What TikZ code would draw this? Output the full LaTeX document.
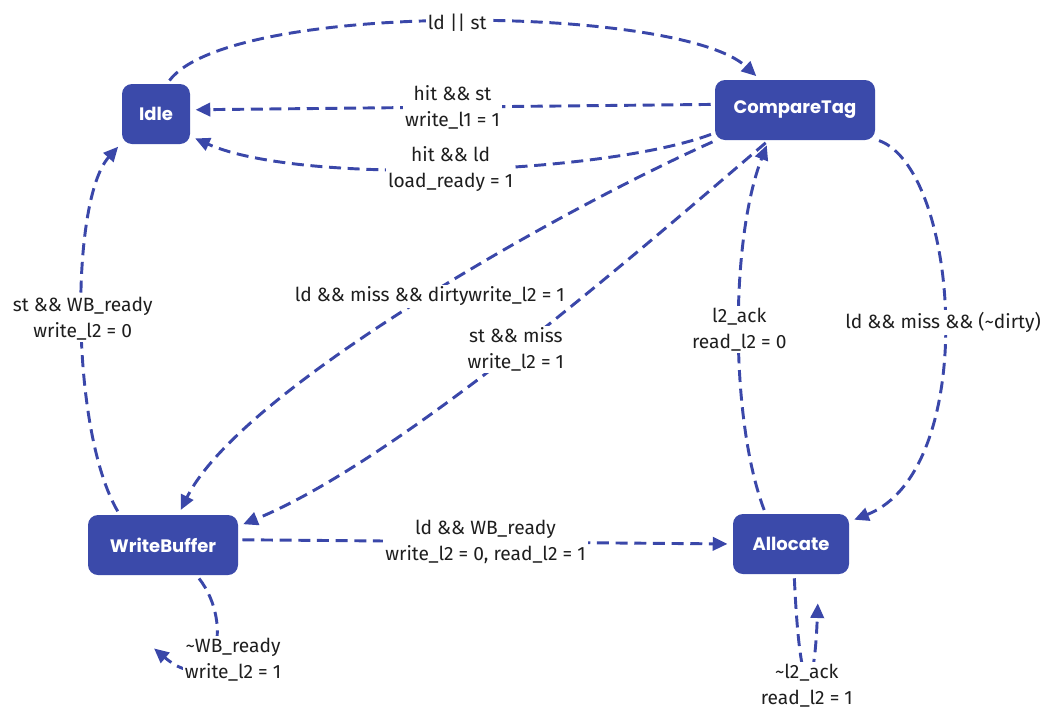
\documentclass[tikz,border=0pt]{standalone}
\usepackage{fontspec}
\setmainfont{Fira Sans}
\newfontfamily\statefont{Poppins}
\usetikzlibrary{arrows.meta}

\tikzstyle{state-box}=[rectangle, rounded corners=7.5pt, fill=stateblue, text=white, minimum height=45pt, inner sep=0pt, font=\statefont\fontsize{13.5}{16}\selectfont\bfseries]
\tikzstyle{trans-edge}=[draw=transblue, line width=2.2pt, dash pattern=on 9pt off 5pt, -{Triangle[length=11pt, width=10pt]}, shorten >=4pt, shorten <=3pt]
\tikzstyle{trans-label}=[fill=white, text=transtext, inner sep=1.5pt, align=center, font=\fontsize{14.4}{19.5}\selectfont]
\definecolor{stateblue}{HTML}{3B4AAA}
\definecolor{transblue}{HTML}{3A47A9}
\definecolor{transtext}{HTML}{1E1E1E}

\begin{document}
\begin{tikzpicture}[x=0.75pt, y=-0.75pt]
      \useasboundingbox (0, 0) rectangle (1047, 711);

      \node (idle) at (156, 114) [state-box, minimum width=51pt] {Idle};
      \node (compare) at (795, 110) [state-box, minimum width=120pt] {CompareTag};
      \node (wbuf) at (163, 545) [state-box, minimum width=112.5pt] {WriteBuffer};
      \node (alloc) at (791, 544) [state-box, minimum width=87pt] {Allocate};
      \coordinate (wbloop) at (150, 645);
      \coordinate (alloop) at (818, 598);

      \draw[trans-edge] (idle.70) .. controls (230, 0) and (680, 5) .. (compare.139)
            node[trans-label, pos=0.5] {ld || st};
      \draw[trans-edge] (compare.176) -- (idle.7)
            node[trans-label, midway] {hit \&\& st\\write\_l1 = 1};
      \draw[trans-edge] (compare.196) .. controls (600, 175) and (300, 185) .. (idle.-33)
            node[trans-label, pos=0.5] {hit \&\& ld\\load\_ready = 1};
      \draw[trans-edge] (compare.201) .. controls (560, 210) and (240, 390) .. (wbuf.63)
            node[trans-label, pos=0.5, xshift=13.5pt, yshift=8pt] {ld \&\& miss \&\& dirtywrite\_l2 = 1};
      \draw[trans-edge] (compare.229) .. controls (640, 250) and (400, 460) .. (wbuf.14)
            node[trans-label, pos=0.5] {st \&\& miss\\write\_l2 = 1};
      \draw[trans-edge] (alloc.130) .. controls (730, 420) and (730, 240) .. (compare.229)
            node[trans-label, pos=0.5] {l2\_ack\\read\_l2 = 0};
      \draw[trans-edge] (compare.-20) .. controls (960, 170) and (980, 470) .. (alloc.21)
            node[trans-label, pos=0.5] {ld \&\& miss \&\& (\textasciitilde dirty)};
      \draw[trans-edge] (wbuf.145) .. controls (70, 430) and (70, 200) .. (idle.-140)
            node[trans-label, pos=0.5] {st \&\& WB\_ready\\write\_l2 = 0};
      \draw[trans-edge] (wbuf.4) -- (alloc.west)
            node[trans-label, midway] {ld \&\& WB\_ready\\write\_l2 = 0, read\_l2 = 1};
      \draw[trans-edge] (wbuf.-42) .. controls (235, 625) and (215, 700) .. (wbloop)
            node[trans-label, pos=0.5, xshift=15.75pt, yshift=-7.5pt] {\textasciitilde WB\_ready\\write\_l2 = 1};
      \draw[trans-edge] (alloc.-84) .. controls (800, 705) and (814, 705) .. (alloop)
            node[trans-label, pos=0.5, yshift=-7.5pt] {\textasciitilde l2\_ack\\read\_l2 = 1};
\end{tikzpicture}
\end{document}
